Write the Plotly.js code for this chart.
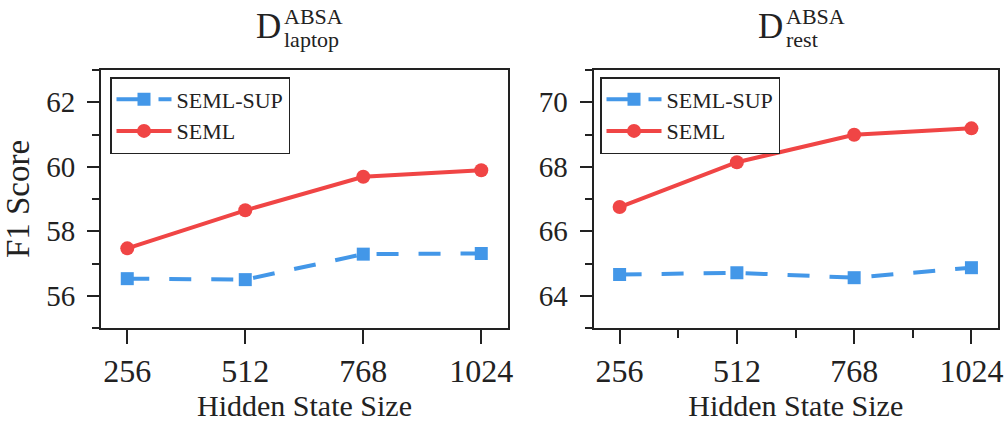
<!DOCTYPE html>
<html>
<head>
<meta charset="utf-8">
<script src="https://cdn.plot.ly/plotly-3.0.1.min.js"></script>
<style>html,body{margin:0;padding:0;background:#fff;}#chart{width:1006px;height:423px;}</style>
</head>
<body>
<div id="chart"></div>
<script>
// ---- data ----
const hiddenSizes = [256, 512, 768, 1024];
const xTickLabels = ['256', '512', '768', '1024'];
const laptopSemlSup = [56.53, 56.50, 57.29, 57.31];
const laptopSeml = [57.47, 58.65, 59.69, 59.89];
const restSemlSup = [64.66, 64.71, 64.56, 64.87];
const restSeml = [66.75, 68.14, 68.99, 69.19];
const seriesNames = ['SEML-SUP', 'SEML'];
const laptopYTicks = [56, 58, 60, 62];
const restYTicks = [64, 66, 68, 70];

const W = 1006, H = 423;
const px = v => v / W;
const py = v => 1 - v / H;

const RED = '#F04545';
const BLUE = '#4397E8';
const FONT = 'Liberation Serif';
const TXT = '#222';

function supTrace(y, xa, ya, lg, show) {
  return {x: hiddenSizes, y: y, xaxis: xa, yaxis: ya, legend: lg, name: seriesNames[0], showlegend: show,
    mode: 'lines+markers', line: {color: BLUE, width: 4, dash: '22px,20px'},
    marker: {symbol: 'square', size: 13, color: BLUE}};
}
function semlTrace(y, xa, ya, lg, show) {
  return {x: hiddenSizes, y: y, xaxis: xa, yaxis: ya, legend: lg, name: seriesNames[1], showlegend: show,
    mode: 'lines+markers', line: {color: RED, width: 4},
    marker: {symbol: 'circle', size: 14, color: RED}};
}

const traces = [
  supTrace(laptopSemlSup, 'x', 'y', 'legend', true),
  semlTrace(laptopSeml, 'x', 'y', 'legend', true),
  supTrace(restSemlSup, 'x2', 'y2', 'legend2', true),
  semlTrace(restSeml, 'x2', 'y2', 'legend2', true)
];

function xAxis(domain, anchor, minor) {
  const ax = {domain: domain, anchor: anchor, range: [199, 1082], tickmode: 'array',
    tickvals: hiddenSizes, ticktext: xTickLabels, ticks: 'outside', ticklen: 14, tickwidth: 2,
    tickcolor: '#222', showline: true, linecolor: '#222', linewidth: 2, mirror: true,
    showgrid: false, zeroline: false, tickfont: {family: FONT, size: 32, color: TXT},
    title: {text: 'Hidden State Size', font: {family: FONT, size: 30, color: TXT}, standoff: 4}};
  if (minor) ax.minor = {tickvals: [384, 640, 896], ticks: 'outside', ticklen: 8, tickwidth: 2, tickcolor: '#222', showgrid: false};
  return ax;
}
function yAxis(domain, anchor, range, ticks, title) {
  return {domain: domain, anchor: anchor, range: range, tickmode: 'array', tickvals: ticks,
    ticks: 'outside', ticklen: 12, tickwidth: 2, tickcolor: '#222', showline: true, linecolor: '#222',
    linewidth: 2, mirror: true, showgrid: false, zeroline: false, ticklabelstandoff: 6,
    minor: {dtick: 1, tick0: range[0], ticks: 'outside', ticklen: 7, tickwidth: 2, tickcolor: '#222', showgrid: false},
    tickfont: {family: FONT, size: 29, color: TXT},
    title: title ? {text: title, font: {family: FONT, size: 33, color: TXT}, standoff: 8} : {text: ''}};
}

function legendBox(xpx) {
  return {x: px(xpx), y: py(77), xref: 'paper', yref: 'paper', xanchor: 'left', yanchor: 'top',
    bgcolor: '#fff', bordercolor: '#222', borderwidth: 1.5, font: {family: FONT, size: 22, color: TXT},
    tracegroupgap: 0, itemwidth: 55};
}

function titleAnn(dRight, sup, sub) {
  return [
    {text: 'D', x: px(dRight), y: py(27), xref: 'paper', yref: 'paper', xanchor: 'right', yanchor: 'middle',
      showarrow: false, font: {family: FONT, size: 35, color: TXT}},
    {text: sup, x: px(dRight - 1), y: py(17), xref: 'paper', yref: 'paper', xanchor: 'left', yanchor: 'middle',
      showarrow: false, font: {family: FONT, size: 22, color: TXT}},
    {text: sub, x: px(dRight - 1), y: py(39), xref: 'paper', yref: 'paper', xanchor: 'left', yanchor: 'middle',
      showarrow: false, font: {family: FONT, size: 22, color: TXT}}
  ];
}

const layout = {
  width: W, height: H, margin: {l: 0, r: 0, t: 0, b: 0},
  paper_bgcolor: '#fff', plot_bgcolor: '#fff', showlegend: true,
  xaxis: xAxis([px(101), px(508)], 'y', false),
  yaxis: yAxis([py(328), py(70)], 'x', [55, 63], laptopYTicks, 'F1 Score'),
  xaxis2: xAxis([px(593.5), px(998)], 'y2', true),
  yaxis2: yAxis([py(328), py(70)], 'x2', [63, 71], restYTicks, ''),
  legend: legendBox(110),
  legend2: legendBox(600),
  annotations: titleAnn(283, 'ABSA', 'laptop').concat(titleAnn(785, 'ABSA', 'rest'))
};

Plotly.newPlot('chart', traces, layout, {displayModeBar: false, staticPlot: true});
</script>
</body>
</html>
